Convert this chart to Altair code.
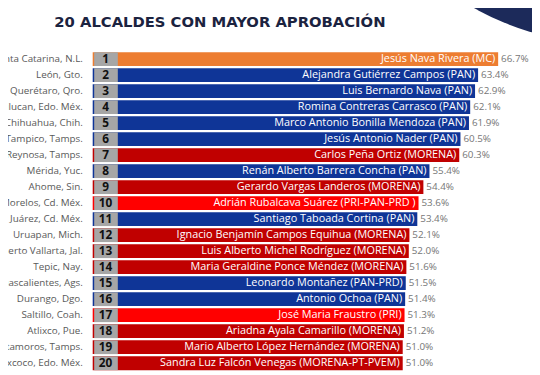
import altair as alt
import pandas as pd

title_text = "20 ALCALDES CON MAYOR APROBACIÓN"

ranks = list(range(1, 21))
cities = [
    "Santa Catarina, N.L.", "León, Gto.", "Querétaro, Qro.", "Huixquilucan, Edo. Méx.",
    "Chihuahua, Chih.", "Tampico, Tamps.", "Reynosa, Tamps.", "Mérida, Yuc.",
    "Ahome, Sin.", "Cuajimalpa de Morelos, Cd. Méx.", "Benito Juárez, Cd. Méx.",
    "Uruapan, Mich.", "Puerto Vallarta, Jal.", "Tepic, Nay.", "Aguascalientes, Ags.",
    "Durango, Dgo.", "Saltillo, Coah.", "Atlixco, Pue.", "Matamoros, Tamps.",
    "Texcoco, Edo. Méx.",
]
mayors = [
    "Jesús Nava Rivera (MC)", "Alejandra Gutiérrez Campos (PAN)", "Luis Bernardo Nava (PAN)",
    "Romina Contreras Carrasco  (PAN)", "Marco Antonio Bonilla Mendoza (PAN)",
    "Jesús Antonio Nader  (PAN)", "Carlos Peña Ortiz (MORENA)",
    "Renán Alberto Barrera Concha (PAN)", "Gerardo Vargas Landeros (MORENA)",
    "Adrián Rubalcava Suárez (PRI-PAN-PRD )", "Santiago Taboada Cortina (PAN)",
    "Ignacio Benjamín Campos Equihua (MORENA)", "Luis Alberto Michel Rodríguez (MORENA)",
    "Maria Geraldine Ponce Méndez (MORENA)", "Leonardo Montañez (PAN-PRD)",
    "Antonio Ochoa (PAN)", "José Maria Fraustro (PRI)", "Ariadna Ayala Camarillo  (MORENA)",
    "Mario Alberto López Hernández (MORENA)", "Sandra Luz Falcón Venegas (MORENA-PT-PVEM)",
]
parties = [
    "MC", "PAN", "PAN", "PAN", "PAN", "PAN", "MORENA", "PAN", "MORENA", "PRI-PAN-PRD",
    "PAN", "MORENA", "MORENA", "MORENA", "PAN-PRD", "PAN", "PRI", "MORENA", "MORENA",
    "MORENA-PT-PVEM",
]
approval = [66.7, 63.4, 62.9, 62.1, 61.9, 60.5, 60.3, 55.4, 54.4, 53.6,
            53.4, 52.1, 52.0, 51.6, 51.5, 51.4, 51.3, 51.2, 51.0, 51.0]

party_domain = ["MC", "PAN", "PAN-PRD", "MORENA", "MORENA-PT-PVEM", "PRI", "PRI-PAN-PRD"]
party_colors = ["#ED7D31", "#0F3597", "#0F3597", "#C00000", "#C00000", "#FF0000", "#FF0000"]

df = pd.DataFrame({
    "rank": ranks, "city": cities, "mayor": mayors,
    "party": parties, "approval": approval,
})
df["label"] = df["approval"].map(lambda v: f"{v:.1f}%")

y = alt.Y("rank:O", axis=None,
          scale=alt.Scale(paddingInner=0.14, paddingOuter=0.07))
x_scale = alt.Scale(domain=[0, 70], nice=False, zero=True)

base = alt.Chart(df)

bars = base.mark_bar().encode(
    x=alt.X("approval:Q", scale=x_scale, axis=None),
    y=y,
    color=alt.Color("party:N", scale=alt.Scale(domain=party_domain, range=party_colors),
                    legend=None),
)

boxes = base.mark_bar(color="#A6A6A6").encode(
    x=alt.value(1.5), x2=alt.value(25.5), y=y,
)

rank_text = base.mark_text(font="Open Sans", fontWeight="bold", fontSize=12,
                           color="#111111", baseline="middle").encode(
    x=alt.value(13), y=y, text="rank:O",
)

names = base.mark_text(font="Open Sans", fontSize=11, color="white", align="right",
                       baseline="middle", dx=-3).encode(
    x=alt.X("approval:Q", scale=x_scale, axis=None), y=y, text="mayor:N",
)

values = base.mark_text(font="Open Sans", fontSize=10, color="#767676", align="left",
                        baseline="middle", dx=3).encode(
    x=alt.X("approval:Q", scale=x_scale, axis=None), y=y, text="label:N",
)

city_text = base.mark_text(font="Open Sans", fontSize=10, color="#595959", align="right",
                           baseline="middle").encode(
    x=alt.value(-10), y=y, text="city:N",
)

# decorative navy disc in the top-right corner (Vega circle radius = sqrt(size)/2)
deco = alt.Chart(pd.DataFrame({"d": [0]})).mark_circle(
    color="#1C2A5A", opacity=1, size=313600
).encode(x=alt.value(524), y=alt.value(-288))

title = alt.Chart(pd.DataFrame({"t": [title_text]})).mark_text(
    font="DejaVu Sans", fontWeight="bold", fontSize=15, color="#1B2340",
    align="left", baseline="alphabetic",
).encode(x=alt.value(-39), y=alt.value(-24), text="t:N")

chart = alt.layer(bars, boxes, rank_text, names, values, city_text, deco, title).properties(
    width=432, height=325,
    autosize=alt.AutoSizeParams(type="none"),
    padding={"left": 86, "top": 41, "right": 14, "bottom": 0},
    background="white",
).configure_view(stroke=None)

chart.save("out.html", embed_options={"renderer": "svg", "actions": False})
